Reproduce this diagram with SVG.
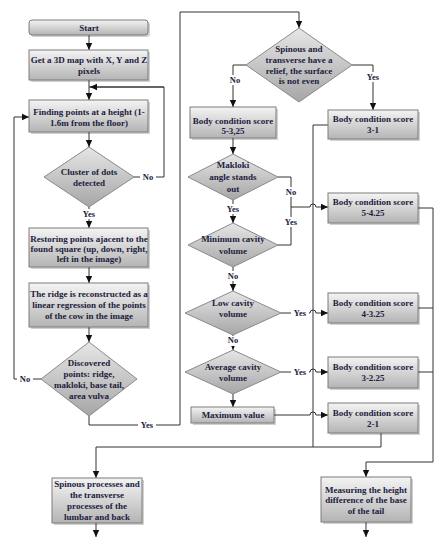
<svg xmlns="http://www.w3.org/2000/svg" width="445" height="550" viewBox="0 0 445 550">
<defs>
<linearGradient id="gb" x1="0" y1="0" x2="0" y2="1">
<stop offset="0" stop-color="#f4f4f4"/><stop offset="1" stop-color="#b4b4b4"/>
</linearGradient>
<linearGradient id="gd" x1="0" y1="0" x2="0" y2="1">
<stop offset="0" stop-color="#e6e6e6"/><stop offset="1" stop-color="#a6a6a6"/>
</linearGradient>
<marker id="ar" markerUnits="userSpaceOnUse" markerWidth="8" markerHeight="8" refX="7" refY="4" orient="auto">
<path d="M0,0.8 L7,4 L0,7.2 Z" fill="#111"/>
</marker>
</defs>
<style>
.box{fill:url(#gb);stroke:#7d7d7d;stroke-width:1}
.dia{fill:url(#gd);stroke:#8a8a8a;stroke-width:1}
.sh{fill:#000;opacity:0.18}
.t{font-family:"Liberation Serif","Times New Roman",serif;font-weight:bold;font-size:9px;fill:#1c1c3c;text-anchor:middle}
.lb{font-family:"Liberation Serif","Times New Roman",serif;font-weight:bold;font-size:8.5px;fill:#1c1c3c;text-anchor:middle}
.c{fill:none;stroke:#333;stroke-width:1}
.a{marker-end:url(#ar)}
.bg{fill:#fff}
</style>
<rect width="445" height="550" fill="#fff"/>

<g id="connectors">
<path class="c a" d="M89,35 V50"/>
<path class="c a" d="M89,80 V100"/>
<path class="c a" d="M89,132 V147"/>
<path class="c" d="M134,177 H164 V87 H89"/>
<path class="c a" d="M164,87 H90"/>
<path class="c a" d="M89,207 V228"/>
<path class="c a" d="M89,267 V283"/>
<path class="c a" d="M89,327 V342"/>
<path class="c a" d="M41,379 H14 V117 H29"/>
<path class="c a" d="M89,416 V425 H180 V12 H299 V28"/>
<path class="c a" d="M246,65 H233 V107"/>
<path class="c a" d="M352,65 H373 V110"/>
<path class="c a" d="M233,138 V154"/>
<path class="c" d="M278,177 H291 V245 H278"/>
<path class="c a" d="M291,207 H310 a3,3 0 0 1 6,0 H328"/>
<path class="c a" d="M233,200 V223"/>
<path class="c a" d="M233,267 V291"/>
<path class="c a" d="M281,313 H310 a3,3 0 0 1 6,0 H328"/>
<path class="c a" d="M233,335 V350"/>
<path class="c a" d="M281,372 H310 a3,3 0 0 1 6,0 H328"/>
<path class="c a" d="M233,394 V407"/>
<path class="c a" d="M274,415 H310 a3,3 0 0 1 6,0 H328"/>
<path class="c" d="M328,125 H313 V447"/>
<path class="c" d="M381,433 V447"/>
<path class="c a" d="M381,447 H96 V478"/>
<path class="c a" d="M418,208 H433 V462 H366 V477"/>
<path class="c" d="M418,308 H433"/>
<path class="c" d="M418,372 H433"/>
<path class="c a" d="M96,523 V537"/>
<path class="c a" d="M366,522 V537"/>
</g>

<g id="labels">
<rect class="bg" x="140" y="172" width="16" height="10"/><text class="lb" x="148" y="180">No</text>
<rect class="bg" x="80" y="209" width="18" height="10"/><text class="lb" x="89" y="217">Yes</text>
<rect class="bg" x="17" y="374" width="16" height="10"/><text class="lb" x="25" y="382">No</text>
<rect class="bg" x="138" y="420" width="18" height="10"/><text class="lb" x="147" y="428">Yes</text>
<rect class="bg" x="227" y="75" width="16" height="10"/><text class="lb" x="235" y="83">No</text>
<rect class="bg" x="364" y="72" width="18" height="10"/><text class="lb" x="373" y="80">Yes</text>
<rect class="bg" x="284" y="187" width="15" height="10"/><text class="lb" x="291" y="195">No</text>
<rect class="bg" x="282" y="217" width="18" height="10"/><text class="lb" x="291" y="225">Yes</text>
<rect class="bg" x="224" y="204" width="18" height="10"/><text class="lb" x="233" y="212">Yes</text>
<rect class="bg" x="225" y="271" width="16" height="10"/><text class="lb" x="233" y="279">No</text>
<rect class="bg" x="291" y="308" width="18" height="10"/><text class="lb" x="300" y="316">Yes</text>
<rect class="bg" x="225" y="336" width="16" height="10"/><text class="lb" x="233" y="343">No</text>
<rect class="bg" x="291" y="367" width="18" height="10"/><text class="lb" x="300" y="375">Yes</text>
</g>

<g id="start">
<rect class="sh" x="31" y="22" width="119" height="15" rx="3"/>
<rect class="box" x="29" y="20" width="119" height="15" rx="3"/>
<text class="t" x="89" y="31">Start</text>
</g>
<g id="get3d">
<rect class="sh" x="31" y="52" width="119" height="30"/>
<rect class="box" x="29" y="50" width="119" height="30"/>
<text class="t" x="89" y="63">Get a 3D map with X, Y and Z</text>
<text class="t" x="89" y="74">pixels</text>
</g>
<g id="finding">
<rect class="sh" x="31" y="102" width="119" height="32"/>
<rect class="box" x="29" y="100" width="119" height="32"/>
<text class="t" x="89" y="115">Finding points at a height (1-</text>
<text class="t" x="89" y="126">1.6m from the floor)</text>
</g>
<g id="cluster">
<polygon class="dia" points="89,147 134,177 89,207 44,177"/>
<text class="t" x="89" y="175">Cluster of dots</text>
<text class="t" x="89" y="186">detected</text>
</g>
<g id="restoring">
<rect class="sh" x="31" y="230" width="119" height="39"/>
<rect class="box" x="29" y="228" width="119" height="39"/>
<text class="t" x="89" y="242">Restoring points ajacent to the</text>
<text class="t" x="89" y="252">found square (up, down, right,</text>
<text class="t" x="89" y="262">left in the image)</text>
</g>
<g id="ridge">
<rect class="sh" x="31" y="285" width="119" height="44"/>
<rect class="box" x="29" y="283" width="119" height="44"/>
<text class="t" x="89" y="297">The ridge is reconstructed as a</text>
<text class="t" x="89" y="308">linear regression of the points</text>
<text class="t" x="89" y="319">of the cow in the image</text>
</g>
<g id="discovered">
<polygon class="dia" points="89,342 137,379 89,416 41,379"/>
<text class="t" x="89" y="366">Discovered</text>
<text class="t" x="89" y="377">points: ridge,</text>
<text class="t" x="89" y="388">makloki, base tail,</text>
<text class="t" x="89" y="399">area vulva</text>
</g>
<g id="spinous">
<polygon class="dia" points="299,28 352,65 299,102 246,65"/>
<text class="t" x="299" y="52">Spinous and</text>
<text class="t" x="299" y="63">transverse have a</text>
<text class="t" x="299" y="74">relief, the surface</text>
<text class="t" x="299" y="84">is not even</text>
</g>
<g id="bcs5-325">
<rect class="sh" x="192" y="109" width="86" height="31"/>
<rect class="box" x="190" y="107" width="86" height="31"/>
<text class="t" x="233" y="124">Body condition score</text>
<text class="t" x="233" y="134">5-3,25</text>
</g>
<g id="makloki">
<polygon class="dia" points="233,154 278,177 233,200 188,177"/>
<text class="t" x="233" y="168">Makloki</text>
<text class="t" x="233" y="180">angle stands</text>
<text class="t" x="233" y="192">out</text>
</g>
<g id="mincavity">
<polygon class="dia" points="233,223 278,245 233,267 188,245"/>
<text class="t" x="233" y="242">Minimum cavity</text>
<text class="t" x="233" y="254">volume</text>
</g>
<g id="lowcavity">
<polygon class="dia" points="233,291 281,313 233,335 185,313"/>
<text class="t" x="233" y="306">Low cavity</text>
<text class="t" x="233" y="317">volume</text>
</g>
<g id="avgcavity">
<polygon class="dia" points="233,350 281,372 233,394 185,372"/>
<text class="t" x="233" y="370">Average cavity</text>
<text class="t" x="233" y="381">volume</text>
</g>
<g id="maxvalue">
<rect class="sh" x="193" y="409" width="83" height="16"/>
<rect class="box" x="191" y="407" width="83" height="16"/>
<text class="t" x="233" y="418">Maximum value</text>
</g>
<g id="bcs3-1">
<rect class="sh" x="330" y="112" width="90" height="29"/>
<rect class="box" x="328" y="110" width="90" height="29"/>
<text class="t" x="373" y="122">Body condition score</text>
<text class="t" x="373" y="133">3-1</text>
</g>
<g id="bcs5-425">
<rect class="sh" x="330" y="195" width="90" height="30"/>
<rect class="box" x="328" y="193" width="90" height="30"/>
<text class="t" x="373" y="205">Body condition score</text>
<text class="t" x="373" y="216">5-4.25</text>
</g>
<g id="bcs4-325">
<rect class="sh" x="330" y="295" width="90" height="30"/>
<rect class="box" x="328" y="293" width="90" height="30"/>
<text class="t" x="373" y="306">Body condition score</text>
<text class="t" x="373" y="317">4-3.25</text>
</g>
<g id="bcs3-225">
<rect class="sh" x="330" y="359" width="90" height="31"/>
<rect class="box" x="328" y="357" width="90" height="31"/>
<text class="t" x="373" y="370">Body condition score</text>
<text class="t" x="373" y="381">3-2.25</text>
</g>
<g id="bcs2-1">
<rect class="sh" x="330" y="405" width="90" height="30"/>
<rect class="box" x="328" y="403" width="90" height="30"/>
<text class="t" x="373" y="416">Body condition score</text>
<text class="t" x="373" y="427">2-1</text>
</g>
<g id="spinousproc">
<rect class="sh" x="54" y="480" width="90" height="45"/>
<rect class="box" x="52" y="478" width="90" height="45"/>
<text class="t" x="97" y="487">Spinous processes and</text>
<text class="t" x="97" y="498">the transverse</text>
<text class="t" x="97" y="509">processes of the</text>
<text class="t" x="97" y="520">lumbar and back</text>
</g>
<g id="measuring">
<rect class="sh" x="323" y="479" width="90" height="45"/>
<rect class="box" x="321" y="477" width="90" height="45"/>
<text class="t" x="366" y="493">Measuring the height</text>
<text class="t" x="366" y="503">difference of the base</text>
<text class="t" x="366" y="514">of the tail</text>
</g>
</svg>
